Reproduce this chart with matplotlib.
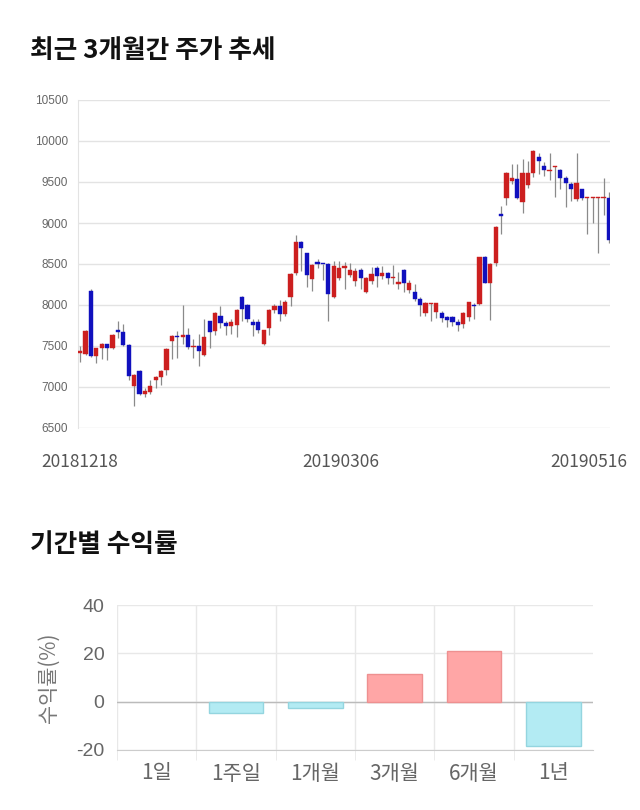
import numpy as np
import matplotlib
matplotlib.use("Agg")
import matplotlib.pyplot as plt
import matplotlib.transforms as mtransforms

plt.rcParams["font.family"] = ["Noto Sans CJK KR", "DejaVu Sans"]
plt.rcParams["axes.unicode_minus"] = False

# daily prices, 20181218 ~ 20190516
opens = [7420, 7400, 8170, 7380, 7470, 7520, 7470, 7690, 7670, 7510,
         7010, 7200, 6920, 6935, 7080, 7120, 7205, 7565, 7620, 7605,
         7635, 7490, 7500, 7390, 7805, 7680, 7865, 7775, 7740, 7755,
         8100, 8000, 7795, 7790, 7520, 7715, 7940, 7990, 7885, 8100,
         8385, 8765, 8630, 8320, 8530, 8500, 8495, 8100, 8325, 8448,
         8366, 8293, 8427, 8154, 8293, 8455, 8358, 8386, 8330, 8252,
         8427, 8183, 8154, 8073, 7898, 8015, 7911, 7898, 7854, 7854,
         7797, 7768, 7850, 8004, 8012, 8581, 8272, 8508, 9110, 9309,
         9516, 9537, 9260, 9463, 9606, 9800, 9699, 9634, 9680, 9646,
         9553, 9476, 9293, 9411, 9300, 9300, 9300, 9300, 9300]
closes = [7440, 7680, 7380, 7470, 7530, 7470, 7640, 7670, 7510, 7130,
          7150, 6910, 6950, 7010, 7120, 7200, 7460, 7620, 7605, 7635,
          7490, 7505, 7445, 7615, 7670, 7900, 7785, 7745, 7795, 7940,
          7950, 7830, 7755, 7695, 7695, 7940, 7990, 7885, 8040, 8380,
          8770, 8690, 8365, 8490, 8505, 8495, 8130, 8480, 8455, 8475,
          8427, 8419, 8325, 8333, 8374, 8358, 8390, 8333, 8340, 8276,
          8264, 8272, 8073, 8000, 8028, 8020, 8020, 7846, 7813, 7789,
          7756, 7898, 8033, 7988, 8581, 8272, 8500, 8947, 9090, 9606,
          9545, 9309, 9606, 9606, 9878, 9760, 9650, 9650, 9690, 9553,
          9484, 9411, 9492, 9309, 9310, 9310, 9310, 9305, 8793]
highs = [7500, 7690, 8200, 7480, 7540, 7530, 7650, 7800, 7770, 7520,
         7160, 7210, 6990, 7080, 7130, 7210, 7470, 7630, 7680, 8000,
         7720, 7590, 7650, 7830, 7810, 7910, 7990, 7800, 7830, 7950,
         8110, 8010, 7830, 7830, 7700, 7950, 8010, 8060, 8060, 8390,
         8850, 8780, 8640, 8500, 8560, 8505, 8510, 8540, 8540, 8520,
         8510, 8450, 8450, 8340, 8460, 8470, 8480, 8400, 8490, 8400,
         8440, 8300, 8250, 8100, 8040, 8030, 8030, 7930, 7870, 7870,
         7830, 7910, 8040, 8020, 8590, 8600, 8510, 8960, 9210, 9620,
         9720, 9720, 9780, 9760, 9890, 9850, 9740, 9850, 9700, 9660,
         9570, 9500, 9850, 9420, 9320, 9320, 9320, 9553, 9380]
lows = [7300, 7390, 7370, 7290, 7340, 7330, 7460, 7600, 7500, 7090,
        6770, 6900, 6880, 6920, 6990, 7030, 7150, 7340, 7350, 7520,
        7460, 7350, 7260, 7380, 7470, 7640, 7720, 7640, 7650, 7610,
        7800, 7790, 7620, 7660, 7510, 7630, 7900, 7800, 7870, 7990,
        8370, 8410, 8220, 8170, 8450, 8300, 7800, 8090, 8300, 8200,
        8340, 8230, 8200, 8150, 8260, 8220, 8320, 8260, 8250, 8200,
        8160, 8150, 8050, 7870, 7870, 7800, 7840, 7790, 7730, 7740,
        7680, 7720, 7800, 7830, 8000, 8270, 7817, 8480, 8870, 9220,
        9480, 9290, 9118, 9430, 9560, 9600, 9570, 9520, 9320, 9410,
        9200, 9270, 9270, 9280, 8866, 8996, 8630, 9098, 8760]
date_labels = ["20181218", "20190306", "20190516"]
date_index = [0, 49, 98]

# period returns
periods = ["1일", "1주일", "1개월", "3개월", "6개월", "1년"]
returns = [0.0, -4.7, -2.6, 11.6, 21.0, -18.3]

RED = "#CC1F1F"
BLUE = "#1010BE"

fig = plt.figure(figsize=(6.4, 8.1), dpi=100)

# ---- candle chart
fig.text(30 / 640, 1 - 50 / 810, "최근 3개월간 주가 추세", fontsize=18.5,
         fontweight="bold", va="center", ha="left", color="#111111")

ax = fig.add_axes([78 / 640, 1 - 428 / 810, 532 / 640, 328 / 810])
x = np.arange(len(opens))
o = np.array(opens)
c = np.array(closes)
up = c >= o
colors = np.where(up, RED, BLUE)
bottoms = np.minimum(o, c)
heights = np.maximum(np.abs(c - o), 12)

ax.vlines(x, lows, highs, color="#8a8a8a", linewidth=0.9, zorder=2)
ax.bar(x, heights, bottom=bottoms, width=0.78, color=colors,
       edgecolor=colors, linewidth=0.3, zorder=3)

ax.set_ylim(6500, 10500)
ax.set_xlim(-0.4, 98.2)
ax.set_yticks(np.arange(6500, 10501, 500))
ax.yaxis.grid(True, color="#e3e3e3", linewidth=1)
ax.set_axisbelow(True)
for s in ["top", "right", "bottom"]:
    ax.spines[s].set_visible(False)
ax.spines["left"].set_color("#e3e3e3")
ax.tick_params(axis="y", length=0, pad=7, labelsize=8.5, labelcolor="#666666")
for lab in ax.get_yticklabels():
    lab.set_fontfamily(["Liberation Sans", "DejaVu Sans"])

ax.set_xticks(date_index)
ax.set_xticklabels(date_labels)
ax.tick_params(axis="x", length=0, pad=18, labelsize=12.5, labelcolor="#555555")
shifts = [0, -4, -20]
for lab, dx in zip(ax.get_xticklabels(), shifts):
    lab.set_transform(lab.get_transform() +
                      mtransforms.ScaledTranslation(dx / 100, 0, fig.dpi_scale_trans))

# ---- returns chart
fig.text(30 / 640, 1 - 545 / 810, "기간별 수익률", fontsize=18.5,
         fontweight="bold", va="center", ha="left", color="#111111")

bx = fig.add_axes([117 / 640, 60 / 810, 476 / 640, 145 / 810])
bar_colors = ["#FFA6A6" if v > 0 else "#B3EBF3" for v in returns]
edge_colors = ["#EE9090" if v > 0 else "#94D5DF" for v in returns]
edge_widths = [1 if v != 0 else 0 for v in returns]
bx.bar(np.arange(len(periods)), returns, width=0.69, color=bar_colors,
       edgecolor=edge_colors, linewidth=edge_widths, zorder=3)

bx.set_xlim(-0.5, len(periods) - 0.5)
bx.set_ylim(-20, 40)
bx.set_yticks([-20, 0, 20, 40])
bx.yaxis.grid(True, color="#e8e8e8", linewidth=1)
bx.set_xticks(np.arange(len(periods)))
bx.set_xticklabels(periods)
bx.set_xticks(np.arange(len(periods)) - 0.5, minor=True)
bx.xaxis.grid(True, which="minor", color="#e8e8e8", linewidth=1)
bx.axhline(0, color="#bbbbbb", linewidth=1, zorder=2)
bx.set_axisbelow(True)
for s in ["top", "right", "left"]:
    bx.spines[s].set_visible(False)
bx.spines["bottom"].set_color("#cccccc")
bx.tick_params(axis="x", which="major", length=0, pad=9, labelsize=15,
               labelcolor="#666666")
bx.tick_params(axis="x", which="minor", length=7, color="#e8e8e8")
bx.tick_params(axis="y", length=0, pad=9, labelsize=14, labelcolor="#666666")
for lab in bx.get_yticklabels():
    lab.set_fontfamily(["Liberation Sans", "DejaVu Sans"])
bx.set_ylabel("수익률(%)", fontsize=15, color="#777777", labelpad=12)

fig.savefig("out.png", dpi=100)
